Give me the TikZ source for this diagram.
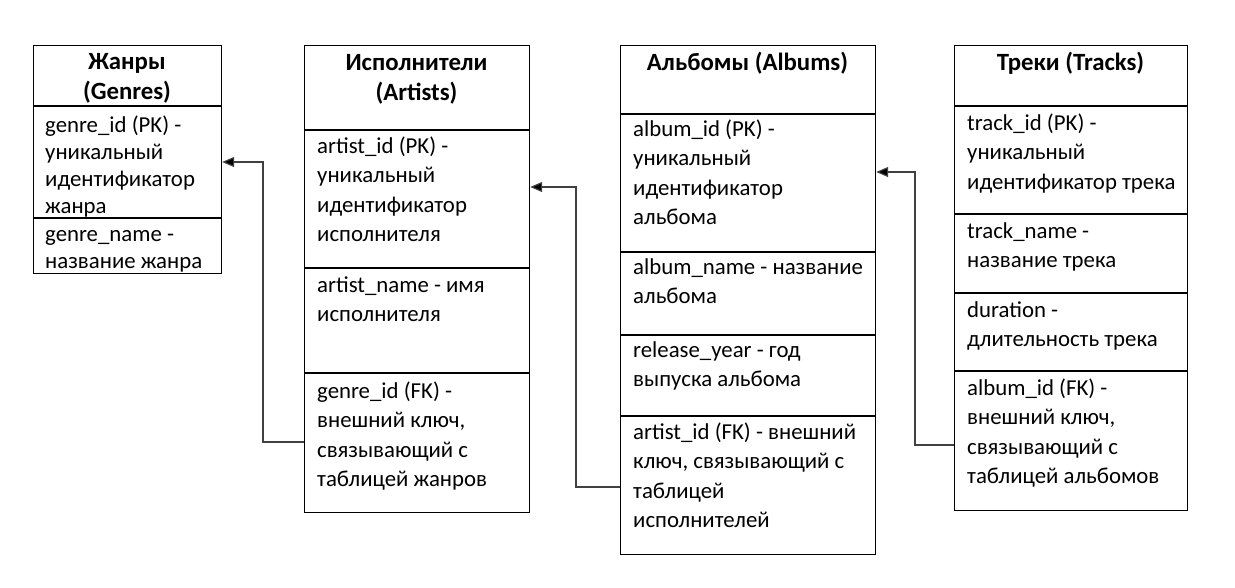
\documentclass[tikz,border=0pt]{standalone}
\usepackage{fontspec}
\setmainfont{Carlito}
\usetikzlibrary{arrows.meta}
\newcommand{\cellL}[1]{\begin{tabular}[t]{@{}l@{}}#1\end{tabular}}
\newcommand{\cellC}[1]{\begin{tabular}[t]{@{}c@{}}#1\end{tabular}}
\tikzset{
  tbox/.style={draw=black, line width=1.2pt, minimum width=#1, inner sep=0pt, anchor=north west},
  sepline/.style={draw=black, line width=1.2pt},
  txt/.style={inner sep=0pt, anchor=base west, font=\fontsize{22.8pt}{29.6pt}\selectfont},
  txtg/.style={inner sep=0pt, anchor=base west, font=\fontsize{22.8pt}{27.2pt}\selectfont},
  ttl/.style={inner sep=0pt, anchor=base, font=\fontsize{24.8pt}{30.5pt}\selectfont\bfseries},
  conn/.style={draw=black!75, line width=1.2pt, -{Triangle[length=12pt,width=10pt,fill=black]}}
}
\begin{document}
\begin{tikzpicture}[x=1pt,y=-1pt]
\useasboundingbox (0,0) rectangle (1235,587);
% Genres
\node[tbox=188pt, minimum height=228pt] (genres) at (33,45) {};
\draw[sepline] (genres.west |- 0,106) -- (genres.east |- 0,106);
\draw[sepline] (genres.west |- 0,218) -- (genres.east |- 0,218);
\node[ttl] (gt) at (127,69) {\cellC{Жанры\\(Genres)}};
\node[txtg] (g1) at (45,132) {\cellL{genre\_id (PK) -\\уникальный\\идентификатор\\жанра}};
\node[txtg] (g2) at (45,241) {\cellL{genre\_name -\\название жанра}};
% Artists
\node[tbox=225pt, minimum height=467pt] (artists) at (304,45) {};
\draw[sepline] (artists.west |- 0,130) -- (artists.east |- 0,130);
\draw[sepline] (artists.west |- 0,268) -- (artists.east |- 0,268);
\draw[sepline] (artists.west |- 0,373) -- (artists.east |- 0,373);
\node[ttl] (at) at (416.5,70) {\cellC{Исполнители\\(Artists)}};
\node[txt] (a1) at (317,153) {\cellL{artist\_id (PK) -\\уникальный\\идентификатор\\исполнителя}};
\node[txt] (a2) at (317,292) {\cellL{artist\_name - имя\\исполнителя}};
\node[txt] (a3) at (317,398) {\cellL{genre\_id (FK) -\\внешний ключ,\\связывающий с\\таблицей жанров}};
% Albums
\node[tbox=255pt, minimum height=509pt] (albums) at (620,45) {};
\draw[sepline] (albums.west |- 0,114) -- (albums.east |- 0,114);
\draw[sepline] (albums.west |- 0,252) -- (albums.east |- 0,252);
\draw[sepline] (albums.west |- 0,335) -- (albums.east |- 0,335);
\draw[sepline] (albums.west |- 0,416) -- (albums.east |- 0,416);
\node[ttl] (alt) at (747.5,70) {\cellC{Альбомы (Albums)}};
\node[txt] (al1) at (633,136) {\cellL{album\_id (PK) -\\уникальный\\идентификатор\\альбома}};
\node[txt] (al2) at (633,274) {\cellL{album\_name - название\\альбома}};
\node[txt] (al3) at (633,357) {\cellL{release\_year - год\\выпуска альбома}};
\node[txt] (al4) at (633,439) {\cellL{artist\_id (FK) - внешний\\ключ, связывающий с\\таблицей\\исполнителей}};
% Tracks
\node[tbox=233pt, minimum height=465pt] (tracks) at (954,45) {};
\draw[sepline] (tracks.west |- 0,106) -- (tracks.east |- 0,106);
\draw[sepline] (tracks.west |- 0,214) -- (tracks.east |- 0,214);
\draw[sepline] (tracks.west |- 0,293) -- (tracks.east |- 0,293);
\draw[sepline] (tracks.west |- 0,371) -- (tracks.east |- 0,371);
\node[ttl] (tt) at (1070.5,70) {\cellC{Треки (Tracks)}};
\node[txt] (t1) at (967,130) {\cellL{track\_id (PK) -\\уникальный\\идентификатор трека}};
\node[txt] (t2) at (967,238) {\cellL{track\_name -\\название трека}};
\node[txt] (t3) at (967,317) {\cellL{duration -\\длительность трека}};
\node[txt] (t4) at (967,395) {\cellL{album\_id (FK) -\\внешний ключ,\\связывающий с\\таблицей альбомов}};
% connectors
\coordinate (k1) at (263,162);
\coordinate (k2) at (576,187);
\coordinate (k3) at (915,172);
\draw[conn] (artists.west |- 0,442) -| (k1) -- (genres.east |- k1);
\draw[conn] (albums.west |- 0,487) -| (k2) -- (artists.east |- k2);
\draw[conn] (tracks.west |- 0,445) -| (k3) -- (albums.east |- k3);
\end{tikzpicture}
\end{document}
